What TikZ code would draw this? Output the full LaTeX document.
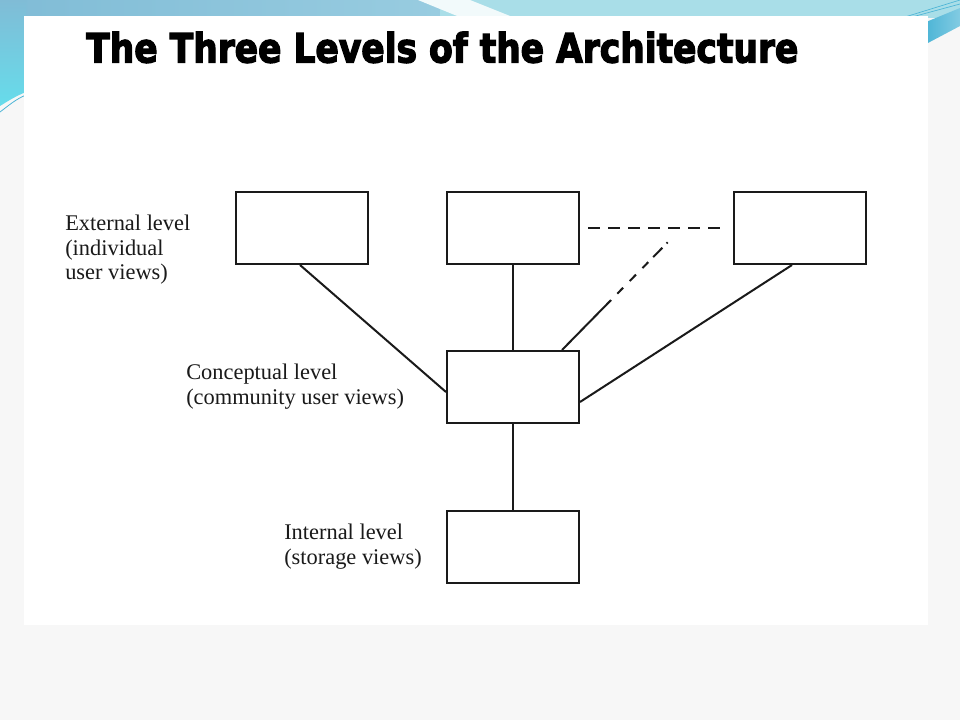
\documentclass[tikz,border=0pt]{standalone}
\usepackage{fontspec}
\usepackage{graphicx}
\setmainfont{Liberation Serif}
\newfontfamily\titlefont[FakeBold=3.5]{DejaVu Sans}
\definecolor{bandL}{HTML}{80BCD6}
\definecolor{bandM}{HTML}{98CCE0}
\definecolor{bandR}{HTML}{A9DEE8}
\definecolor{cyanL}{HTML}{66DCEB}
\definecolor{streak}{HTML}{4DB5D6}
\definecolor{bgc}{HTML}{F7F7F7}
\definecolor{ink}{HTML}{1A1A1A}
\tikzset{
  levelbox/.style={draw=ink, line width=1.5pt, minimum width=99pt, minimum height=54pt, inner sep=0pt, fill=white},
  conn/.style={draw=ink, line width=1.5pt},
  dashline/.style={draw=ink, line width=1.5pt, dash pattern=on 9pt off 6pt},
  mixline/.style={draw=ink, line width=1.5pt, dash pattern=on 52.5pt off 6.7pt on 6.2pt off 7.1pt on 6.7pt off 6.9pt on 6.3pt off 5.2pt on 9.9pt off 4.5pt on 1.1pt off 20pt},
  lbl/.style={anchor=north west, inner sep=0pt, align=left, font=\fontsize{16.8pt}{18.6pt}\selectfont, text=ink},
}
\begin{document}
\begin{tikzpicture}[x=0.75pt,y=-0.75pt]
\useasboundingbox (0,0) rectangle (960,720);
% background and slide decoration
\fill[bgc] (0,0) rectangle (960,720);
\shade[left color=bandL, right color=bandM] (0,0) rectangle (440,18);
\fill[bandR] (440,0) rectangle (960,18);
\fill[white!85!bandR] (418,0) -- (470,0) -- (515,18) -- (462,18) -- cycle;
\shade[top color=bandL, bottom color=cyanL] (0,0) -- (26,0) -- (26,92) .. controls (16,96) and (8,101) .. (0,106) -- cycle;
\draw[streak, line width=0.6pt] (0,112) .. controls (8,106) and (16,99) .. (26,95);
\shade[left color=streak, right color=streak!70!white] (926,22) -- (960,8) -- (960,26) -- (926,44) -- cycle;
\draw[streak, line width=0.5pt] (905,17) -- (960,0);
\draw[streak, line width=0.5pt] (912,17) -- (960,4);
% white panel
\fill[white] (24,16) rectangle (928,625);
% title
\node[anchor=base west, inner sep=0pt] (title) at (86,62.5)
  {\resizebox{534pt}{23pt}{\titlefont\bfseries The Three Levels of the Architecture}};
% boxes
\node[levelbox] (E1) at (302,228) {};
\node[levelbox] (E2) at (513,228) {};
\node[levelbox] (E3) at (800,228) {};
\node[levelbox] (C)  at (513,387) {};
\node[levelbox] (I)  at (513,546.5) {};
% labels
\node[lbl] (lE) at (65,214.5) {External level\\(individual\\user views)};
\node[lbl] (lC) at (186,363.5) {Conceptual level\\(community user views)};
\node[lbl] (lI) at (284,523.5) {Internal level\\(storage views)};
% connectors
\draw[conn] ([xshift=-1.5pt]E1.south) -- ([yshift=-3.75pt]C.west);
\draw[conn] (E2.south) -- (C.north);
\draw[conn] ([xshift=-6pt]E3.south) -- ([yshift=-11.25pt]C.east);
\draw[conn] (C.south) -- (I.north);
\draw[dashline, shorten <=6pt, shorten >=9pt] (E2.east) -- (E3.west);
\coordinate (dd) at (668.5,241.5);
\draw[mixline] ([xshift=36.75pt]C.north) -- (dd);
\end{tikzpicture}
\end{document}
